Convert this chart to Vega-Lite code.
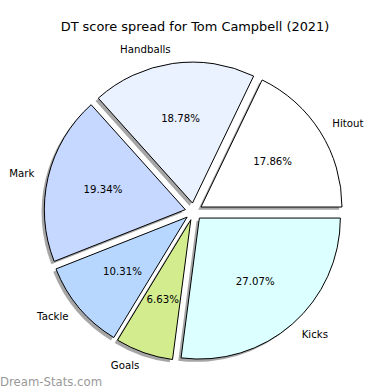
{
"$schema": "https://vega.github.io/schema/vega-lite/v6.json",
"autosize": {"type": "pad"},
"padding": {"left": 0, "top": 21, "right": 3, "bottom": 0},
"background": "white",
"title": {"text": "DT score spread for Tom Campbell (2021)", "anchor": "middle", "font": "DejaVu Sans", "fontSize": 12.9, "fontWeight": "normal", "color": "black", "baseline": "alphabetic", "offset": -12, "dx": 1.5},
"data": {"values": [
{"k": "Hitout", "share": 0.1786, "ord": 6},
{"k": "Handballs", "share": 0.1878, "ord": 5},
{"k": "Mark", "share": 0.1934, "ord": 4},
{"k": "Tackle", "share": 0.1031, "ord": 3},
{"k": "Goals", "share": 0.0663, "ord": 2},
{"k": "Kicks", "share": 0.2707, "ord": 1}
]},
"vconcat": [{
"width": 387, "height": 359,
"title": {"text": "Dream-Stats.com", "orient": "bottom", "anchor": "start", "font": "DejaVu Sans", "fontSize": 11.7, "fontWeight": "normal", "color": "#999999", "baseline": "alphabetic", "offset": 0, "dy": -5},
"layer": [
{"mark": {"type": "arc", "radius": 141, "fill": "#4d4d4d", "fillOpacity": 0.5, "xOffset": 4.68, "yOffset": -1.68},
 "encoding": {"theta": {"field": "share", "type": "quantitative", "stack": true, "scale": {"domain": [0, 0.9999], "range": [1.5708, 7.854], "nice": false}}, "order": {"field": "ord"}, "opacity": {"condition": {"test": "datum.k === 'Hitout'", "value": 1}, "value": 0}}},
{"mark": {"type": "arc", "radius": 141, "fill": "#4d4d4d", "fillOpacity": 0.5, "xOffset": -3.81, "yOffset": -5.61},
 "encoding": {"theta": {"field": "share", "type": "quantitative", "stack": true}, "order": {"field": "ord"}, "opacity": {"condition": {"test": "datum.k === 'Handballs'", "value": 1}, "value": 0}}},
{"mark": {"type": "arc", "radius": 141, "fill": "#4d4d4d", "fillOpacity": 0.5, "xOffset": -10.97, "yOffset": 0.92},
 "encoding": {"theta": {"field": "share", "type": "quantitative", "stack": true}, "order": {"field": "ord"}, "opacity": {"condition": {"test": "datum.k === 'Mark'", "value": 1}, "value": 0}}},
{"mark": {"type": "arc", "radius": 141, "fill": "#4d4d4d", "fillOpacity": 0.5, "xOffset": -9.18, "yOffset": 8.44},
 "encoding": {"theta": {"field": "share", "type": "quantitative", "stack": true}, "order": {"field": "ord"}, "opacity": {"condition": {"test": "datum.k === 'Tackle'", "value": 1}, "value": 0}}},
{"mark": {"type": "arc", "radius": 141, "fill": "#4d4d4d", "fillOpacity": 0.5, "xOffset": -5.46, "yOffset": 11.01},
 "encoding": {"theta": {"field": "share", "type": "quantitative", "stack": true}, "order": {"field": "ord"}, "opacity": {"condition": {"test": "datum.k === 'Goals'", "value": 1}, "value": 0}}},
{"mark": {"type": "arc", "radius": 141, "fill": "#4d4d4d", "fillOpacity": 0.5, "xOffset": 3.07, "yOffset": 9.36},
 "encoding": {"theta": {"field": "share", "type": "quantitative", "stack": true}, "order": {"field": "ord"}, "opacity": {"condition": {"test": "datum.k === 'Kicks'", "value": 1}, "value": 0}}},

{"mark": {"type": "arc", "radius": 141, "stroke": "black", "strokeWidth": 1, "xOffset": 7.48, "yOffset": -4.48},
 "encoding": {"theta": {"field": "share", "type": "quantitative", "stack": true}, "order": {"field": "ord"}, "color": {"field": "k", "type": "nominal", "scale": {"domain": ["Hitout", "Handballs", "Mark", "Tackle", "Goals", "Kicks"], "range": ["#ffffff", "#eaf1ff", "#c6d8ff", "#b7d7ff", "#d2ec8e", "#dcffff"]}, "legend": null}, "opacity": {"condition": {"test": "datum.k === 'Hitout'", "value": 1}, "value": 0}}},
{"mark": {"type": "arc", "radius": 141, "stroke": "black", "strokeWidth": 1, "xOffset": -1.01, "yOffset": -8.41},
 "encoding": {"theta": {"field": "share", "type": "quantitative", "stack": true}, "order": {"field": "ord"}, "color": {"field": "k", "type": "nominal", "legend": null}, "opacity": {"condition": {"test": "datum.k === 'Handballs'", "value": 1}, "value": 0}}},
{"mark": {"type": "arc", "radius": 141, "stroke": "black", "strokeWidth": 1, "xOffset": -8.17, "yOffset": -1.88},
 "encoding": {"theta": {"field": "share", "type": "quantitative", "stack": true}, "order": {"field": "ord"}, "color": {"field": "k", "type": "nominal", "legend": null}, "opacity": {"condition": {"test": "datum.k === 'Mark'", "value": 1}, "value": 0}}},
{"mark": {"type": "arc", "radius": 141, "stroke": "black", "strokeWidth": 1, "xOffset": -6.38, "yOffset": 5.64},
 "encoding": {"theta": {"field": "share", "type": "quantitative", "stack": true}, "order": {"field": "ord"}, "color": {"field": "k", "type": "nominal", "legend": null}, "opacity": {"condition": {"test": "datum.k === 'Tackle'", "value": 1}, "value": 0}}},
{"mark": {"type": "arc", "radius": 141, "stroke": "black", "strokeWidth": 1, "xOffset": -2.66, "yOffset": 8.21},
 "encoding": {"theta": {"field": "share", "type": "quantitative", "stack": true}, "order": {"field": "ord"}, "color": {"field": "k", "type": "nominal", "legend": null}, "opacity": {"condition": {"test": "datum.k === 'Goals'", "value": 1}, "value": 0}}},
{"mark": {"type": "arc", "radius": 141, "stroke": "black", "strokeWidth": 1, "xOffset": 5.87, "yOffset": 6.56},
 "encoding": {"theta": {"field": "share", "type": "quantitative", "stack": true}, "order": {"field": "ord"}, "color": {"field": "k", "type": "nominal", "legend": null}, "opacity": {"condition": {"test": "datum.k === 'Kicks'", "value": 1}, "value": 0}}},

{"mark": {"type": "text", "radius": 84.6, "font": "DejaVu Sans", "fontSize": 10.2, "color": "black", "align": "center", "baseline": "middle", "xOffset": 7.48, "yOffset": -4.48},
 "encoding": {"theta": {"field": "share", "type": "quantitative", "stack": true}, "order": {"field": "ord"}, "text": {"field": "share", "type": "quantitative", "format": ".2%"}, "opacity": {"condition": {"test": "datum.k === 'Hitout'", "value": 1}, "value": 0}}},
{"mark": {"type": "text", "radius": 84.6, "font": "DejaVu Sans", "fontSize": 10.2, "color": "black", "align": "center", "baseline": "middle", "xOffset": -1.01, "yOffset": -8.41},
 "encoding": {"theta": {"field": "share", "type": "quantitative", "stack": true}, "order": {"field": "ord"}, "text": {"field": "share", "type": "quantitative", "format": ".2%"}, "opacity": {"condition": {"test": "datum.k === 'Handballs'", "value": 1}, "value": 0}}},
{"mark": {"type": "text", "radius": 84.6, "font": "DejaVu Sans", "fontSize": 10.2, "color": "black", "align": "center", "baseline": "middle", "xOffset": -8.17, "yOffset": -1.88},
 "encoding": {"theta": {"field": "share", "type": "quantitative", "stack": true}, "order": {"field": "ord"}, "text": {"field": "share", "type": "quantitative", "format": ".2%"}, "opacity": {"condition": {"test": "datum.k === 'Mark'", "value": 1}, "value": 0}}},
{"mark": {"type": "text", "radius": 84.6, "font": "DejaVu Sans", "fontSize": 10.2, "color": "black", "align": "center", "baseline": "middle", "xOffset": -6.38, "yOffset": 5.64},
 "encoding": {"theta": {"field": "share", "type": "quantitative", "stack": true}, "order": {"field": "ord"}, "text": {"field": "share", "type": "quantitative", "format": ".2%"}, "opacity": {"condition": {"test": "datum.k === 'Tackle'", "value": 1}, "value": 0}}},
{"mark": {"type": "text", "radius": 84.6, "font": "DejaVu Sans", "fontSize": 10.2, "color": "black", "align": "center", "baseline": "middle", "xOffset": -2.66, "yOffset": 8.21},
 "encoding": {"theta": {"field": "share", "type": "quantitative", "stack": true}, "order": {"field": "ord"}, "text": {"field": "share", "type": "quantitative", "format": ".2%"}, "opacity": {"condition": {"test": "datum.k === 'Goals'", "value": 1}, "value": 0}}},
{"mark": {"type": "text", "radius": 84.6, "font": "DejaVu Sans", "fontSize": 10.2, "color": "black", "align": "center", "baseline": "middle", "xOffset": 5.87, "yOffset": 6.56},
 "encoding": {"theta": {"field": "share", "type": "quantitative", "stack": true}, "order": {"field": "ord"}, "text": {"field": "share", "type": "quantitative", "format": ".2%"}, "opacity": {"condition": {"test": "datum.k === 'Kicks'", "value": 1}, "value": 0}}},

{"mark": {"type": "text", "radius": 155.1, "font": "DejaVu Sans", "fontSize": 10.2, "color": "black", "align": "left", "baseline": "middle", "xOffset": 7.48, "yOffset": -4.48},
 "encoding": {"theta": {"field": "share", "type": "quantitative", "stack": true}, "order": {"field": "ord"}, "text": {"field": "k"}, "opacity": {"condition": {"test": "datum.k === 'Hitout'", "value": 1}, "value": 0}}},
{"mark": {"type": "text", "radius": 155.1, "font": "DejaVu Sans", "fontSize": 10.2, "color": "black", "align": "right", "baseline": "middle", "xOffset": -1.01, "yOffset": -8.41},
 "encoding": {"theta": {"field": "share", "type": "quantitative", "stack": true}, "order": {"field": "ord"}, "text": {"field": "k"}, "opacity": {"condition": {"test": "datum.k === 'Handballs'", "value": 1}, "value": 0}}},
{"mark": {"type": "text", "radius": 155.1, "font": "DejaVu Sans", "fontSize": 10.2, "color": "black", "align": "right", "baseline": "middle", "xOffset": -8.17, "yOffset": -1.88},
 "encoding": {"theta": {"field": "share", "type": "quantitative", "stack": true}, "order": {"field": "ord"}, "text": {"field": "k"}, "opacity": {"condition": {"test": "datum.k === 'Mark'", "value": 1}, "value": 0}}},
{"mark": {"type": "text", "radius": 155.1, "font": "DejaVu Sans", "fontSize": 10.2, "color": "black", "align": "right", "baseline": "middle", "xOffset": -6.38, "yOffset": 5.64},
 "encoding": {"theta": {"field": "share", "type": "quantitative", "stack": true}, "order": {"field": "ord"}, "text": {"field": "k"}, "opacity": {"condition": {"test": "datum.k === 'Tackle'", "value": 1}, "value": 0}}},
{"mark": {"type": "text", "radius": 155.1, "font": "DejaVu Sans", "fontSize": 10.2, "color": "black", "align": "right", "baseline": "middle", "xOffset": -2.66, "yOffset": 8.21},
 "encoding": {"theta": {"field": "share", "type": "quantitative", "stack": true}, "order": {"field": "ord"}, "text": {"field": "k"}, "opacity": {"condition": {"test": "datum.k === 'Goals'", "value": 1}, "value": 0}}},
{"mark": {"type": "text", "radius": 155.1, "font": "DejaVu Sans", "fontSize": 10.2, "color": "black", "align": "left", "baseline": "middle", "xOffset": 5.87, "yOffset": 6.56},
 "encoding": {"theta": {"field": "share", "type": "quantitative", "stack": true}, "order": {"field": "ord"}, "text": {"field": "k"}, "opacity": {"condition": {"test": "datum.k === 'Kicks'", "value": 1}, "value": 0}}}
]
}],
"config": {"view": {"stroke": null}}
}
